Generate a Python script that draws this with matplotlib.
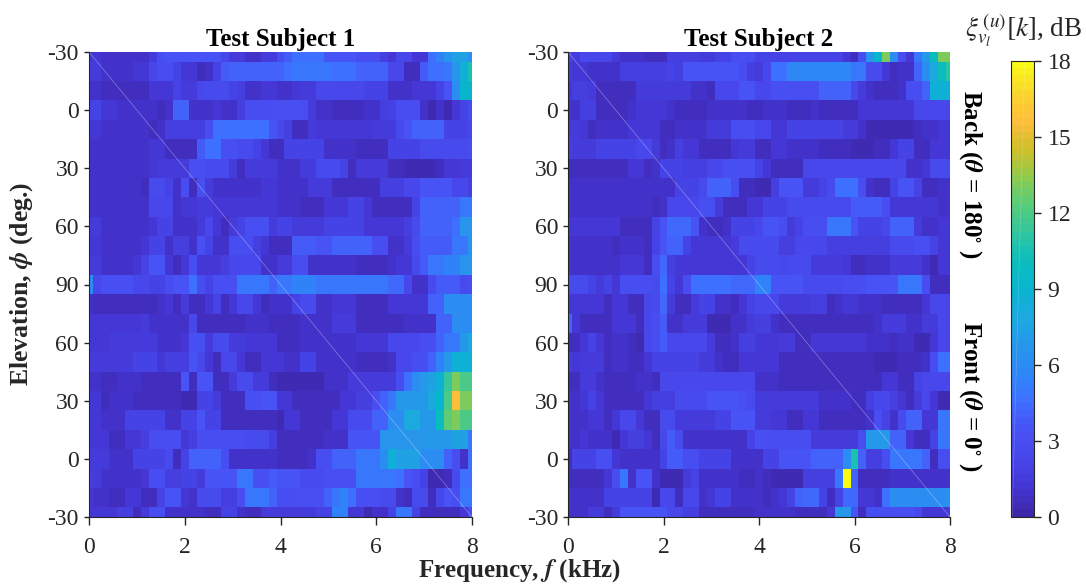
import numpy as np
from matplotlib import pyplot as plt
from matplotlib.colors import LinearSegmentedColormap

plt.rcParams['font.family'] = ['Liberation Serif', 'DejaVu Serif']
plt.rcParams['mathtext.fontset'] = 'stix'

# Тики оси и подписи
elev_ticks = list(range(0, 25, 3))
elev_labels = ['-30', '0', '30', '60', '90', '60', '30', '0', '-30']
freq_ticks = [0, 2, 4, 6, 8]
cbar_ticks = [0, 3, 6, 9, 12, 15, 18]
titles = ['Test Subject 1', 'Test Subject 2']

# Цвета шкалы (parula)
parula_colors = [(0.2422, 0.1504, 0.6603), (0.2706, 0.2147, 0.8364), (0.2803, 0.2782, 0.9221),
                 (0.2810, 0.3228, 0.9579), (0.2440, 0.4358, 0.9988), (0.1786, 0.5289, 0.9682),
                 (0.1540, 0.5902, 0.9218), (0.1113, 0.6635, 0.8763), (0.0297, 0.7082, 0.8163),
                 (0.0433, 0.7411, 0.7394), (0.1938, 0.7758, 0.6251), (0.3406, 0.8008, 0.4789),
                 (0.5616, 0.7942, 0.3045), (0.8203, 0.7498, 0.1535), (0.9956, 0.7434, 0.2371),
                 (0.9786, 0.8386, 0.1766), (0.9769, 0.9839, 0.0805)]

# Данные: строки - угол места, столбцы - частота
subject_1 = [
    [1.2,1.2,1.1,1.1,1.0,1.0,1.0,1.0,1.6,3.2, 3.5,3.5,3.6,3.6,3.6,3.6,3.6,2.5,1.6,1.5, 1.0,1.0,1.5,1.5,3.0,3.8,4.5,4.5,4.5,4.5, 3.5,3.5,3.5,3.5,3.0,3.0,3.0,1.8,1.2,2.3, 2.3,1.2,1.2,4.5,5.5,6.5,7.5,7.5,6.0],
    [1.6,1.6,1.1,1.1,1.1,1.1,1.2,1.2,2.5,3.0, 3.0,2.0,1.3,1.3,0.6,0.9,2.0,3.9,4.0,4.0, 4.1,4.1,4.2,4.2,4.2,4.6,4.8,4.8,4.8,4.8, 4.8,4.5,4.5,4.5,4.0,4.0,4.0,4.0,2.4,2.4, 0.7,0.7,3.8,4.5,4.5,5.0,6.5,8.5,10.5],
    [1.0,1.0,0.8,0.8,0.8,0.8,0.8,0.8,1.2,1.2, 1.2,2.0,1.5,1.5,2.5,2.6,2.8,2.8,2.2,1.7, 1.0,1.0,1.4,1.4,1.0,1.0,1.4,1.6,1.5,2.3, 2.3,2.3,2.3,2.3,2.3,2.2,2.2,2.2,0.9,0.9, 0.9,1.4,1.4,1.4,2.0,3.6,6.0,9.0,9.0],
    [2.0,2.0,1.2,1.2,1.1,1.1,1.0,1.0,0.9,0.8, 1.0,4.0,4.0,0.9,0.9,0.9,1.2,0.9,0.9,1.7, 3.0,3.0,3.0,3.0,3.2,3.2,3.2,3.0,1.5,1.0, 1.0,0.8,0.8,0.8,0.8,0.9,1.0,1.7,2.0,3.0, 3.0,3.0,1.0,0.5,1.0,0.5,1.2,2.0,2.7],
    [1.2,1.2,1.0,1.0,1.0,0.9,0.9,0.9,0.8,0.9, 1.7,1.8,1.9,1.9,1.9,3.0,4.7,4.7,4.7,4.7, 4.7,4.7,4.7,3.5,2.5,1.8,0.7,0.7,1.6,1.2, 1.2,1.2,1.2,1.2,1.2,1.2,1.6,1.6,1.6,2.6, 3.5,4.1,4.1,4.1,4.1,2.2,2.0,2.2,2.4],
    [1.0,1.0,1.0,1.0,1.0,1.0,1.0,1.0,1.4,1.4, 0.7,0.7,0.7,0.7,3.8,4.5,4.5,3.2,3.2,2.8, 2.8,2.2,1.3,0.8,0.8,2.2,2.2,2.2,2.0,2.0, 1.0,1.0,1.0,1.0,0.7,0.7,0.7,0.7,2.2,2.2, 2.2,2.2,2.7,2.7,2.7,2.7,2.7,2.7,3.0],
    [1.0,1.0,1.0,1.0,1.0,1.0,1.0,1.0,1.2,1.5, 1.5,1.5,1.5,3.2,3.2,2.8,2.8,2.8,1.6,0.8, 1.5,1.6,1.6,1.6,1.1,1.1,1.1,1.5,1.5,2.8, 2.8,2.8,2.2,0.7,1.5,1.5,1.5,1.5,0.7,0.7, 0.5,0.5,0.5,0.5,0.8,1.3,1.3,1.5,1.5],
    [1.0,1.0,1.0,1.0,1.0,1.0,1.0,0.7,2.8,2.8, 2.2,0.9,3.0,0.7,3.2,1.5,1.0,1.0,1.0,1.0, 1.0,1.0,1.4,1.4,1.0,1.0,1.0,1.0,1.5,1.5, 1.5,0.8,0.8,0.8,0.8,0.8,0.8,1.8,1.8,1.8, 2.5,2.5,3.5,3.5,3.5,3.5,2.4,2.4,1.8],
    [1.1,1.1,1.1,1.1,1.1,1.1,1.1,1.1,2.5,2.5, 2.5,1.0,1.4,1.4,1.6,1.6,1.2,1.2,1.2,1.2, 1.2,1.2,1.2,1.2,1.0,1.0,1.0,0.7,0.7,0.7, 1.4,1.4,1.4,2.1,2.1,1.3,0.7,0.7,0.7,0.7, 0.7,2.0,4.0,4.0,4.0,4.0,4.0,4.8,4.8],
    [1.6,1.6,0.9,0.9,0.9,0.9,0.9,0.9,1.2,2.0, 2.0,1.1,1.1,1.1,1.6,2.5,1.2,0.7,1.6,2.2, 3.3,3.3,3.3,1.5,2.0,2.0,1.5,1.5,1.5,1.5, 2.0,2.0,2.0,2.0,2.0,1.4,1.4,1.4,1.3,1.3, 1.7,2.8,4.0,4.0,4.0,4.0,4.5,6.5,6.5],
    [1.2,1.2,0.9,0.9,0.9,0.9,0.9,1.2,2.2,2.2, 0.9,1.8,1.8,0.9,3.2,2.0,1.0,1.0,3.0,3.0, 3.0,1.8,1.2,0.8,0.8,0.8,3.8,3.8,3.8,3.5, 3.5,4.0,4.0,4.0,4.0,4.0,3.0,3.0,1.0,1.0, 1.5,3.0,3.7,3.7,3.7,3.7,5.0,5.0,6.5],
    [1.5,1.5,1.0,1.0,1.0,1.0,1.2,2.2,3.4,3.4, 1.3,0.7,1.2,3.0,1.3,1.3,1.3,1.8,2.5,2.5, 2.5,2.5,0.9,0.9,1.5,1.5,3.0,3.0,1.1,1.1, 1.1,1.0,1.0,1.0,0.8,0.8,0.8,0.8,1.0,1.3, 1.3,2.8,3.7,4.8,4.8,5.5,5.5,6.5,6.5],
    [6.0,2.5,3.2,3.2,3.2,3.2,2.5,2.5,2.0,2.0, 3.0,3.4,3.4,4.7,3.0,2.0,3.3,3.3,3.3,4.8, 4.8,4.8,4.8,4.0,4.8,4.8,5.5,5.5,5.5,4.8, 4.8,4.8,4.8,4.8,4.8,4.8,4.8,4.8,4.3,4.3, 2.5,0.9,0.9,2.6,3.8,3.8,3.8,2.8,3.0],
    [1.0,0.7,0.7,0.7,0.7,0.7,0.7,0.7,0.7,1.1, 1.2,0.6,1.6,0.8,0.8,1.3,2.0,0.8,1.4,2.4, 2.4,1.3,0.6,1.0,1.0,1.0,2.0,2.8,2.8,1.1, 1.1,1.3,1.3,1.4,0.7,0.7,0.7,0.7,1.4,1.4, 1.4,1.4,1.4,4.0,4.0,6.0,6.0,6.0,6.0],
    [1.4,1.4,1.4,1.3,1.3,1.3,1.3,1.6,1.0,1.0, 1.0,0.9,0.9,2.4,0.8,0.8,0.7,0.7,0.7,0.7, 1.1,1.1,1.1,0.8,0.7,0.7,0.7,0.9,0.9,0.9, 0.9,1.5,1.5,1.5,0.8,0.8,0.8,0.8,0.8,0.8, 1.0,1.0,1.0,1.0,4.0,4.0,6.0,6.0,6.0],
    [1.4,1.4,1.4,1.5,1.5,1.5,1.6,1.6,1.6,0.9, 0.9,0.9,1.3,3.2,3.2,1.5,2.6,2.6,1.6,1.5, 1.2,1.3,1.3,1.3,0.7,0.7,0.7,0.9,0.9,0.9, 0.9,0.9,0.9,0.9,1.2,1.2,1.2,1.2,2.4,2.4, 2.4,2.4,3.0,3.0,4.0,5.0,5.0,7.0,8.0],
    [1.6,1.5,1.5,1.5,1.5,1.5,2.0,2.0,2.0,1.2, 1.7,1.7,1.7,3.6,2.4,1.4,0.8,2.4,2.4,1.4, 0.7,0.7,1.3,1.3,1.2,1.0,1.0,2.2,2.2,0.9, 0.9,0.9,0.9,0.9,0.6,0.6,0.6,0.6,1.0,2.5, 2.5,3.0,3.0,4.2,5.5,7.0,8.5,8.5,8.5],
    [1.1,1.1,0.7,0.7,1.0,1.0,1.0,0.8,0.8,0.8, 0.8,0.8,3.4,0.8,3.4,3.4,0.7,0.7,1.5,2.7, 2.7,1.5,1.5,0.7,0.5,0.5,0.5,0.5,0.5,0.5, 1.1,1.1,1.1,1.6,1.6,1.6,1.6,1.6,1.6,3.0, 4.7,6.0,6.8,7.5,8.5,11.5,13.0,12.0,12.0],
    [1.2,1.2,0.8,1.0,1.0,1.0,0.8,0.8,0.8,0.8, 0.8,0.8,0.5,0.5,2.0,2.0,1.6,0.8,0.8,0.8, 3.2,3.3,3.5,3.5,1.4,1.2,0.6,0.6,0.6,0.6, 0.6,0.6,1.2,1.2,1.7,1.7,3.0,4.0,5.0,6.8, 6.8,6.8,6.8,8.0,9.0,12.0,15.5,13.0,13.0],
    [1.3,1.3,0.9,0.9,1.1,2.2,2.2,2.2,2.2,2.2, 1.0,1.0,2.0,2.0,3.6,2.2,2.2,0.7,0.7,0.7, 0.7,0.7,0.7,0.7,0.5,1.4,1.4,0.8,0.8,0.8, 0.8,1.4,1.4,2.6,2.6,2.6,4.0,4.0,6.0,6.0, 8.0,8.0,7.0,7.0,10.0,12.5,13.0,12.0,12.0],
    [1.2,1.2,1.2,0.8,0.8,1.3,1.3,1.8,3.0,3.0, 3.0,3.0,1.3,1.8,3.0,3.0,3.0,3.0,3.0,3.0, 2.8,2.8,2.8,1.9,0.8,0.8,0.8,0.8,0.8,0.8, 1.0,1.0,1.0,3.6,3.6,3.6,3.6,6.5,6.5,6.5, 6.5,6.5,7.0,7.0,7.0,7.0,7.5,7.5,5.0],
    [1.5,1.5,1.5,0.9,0.9,1.1,2.2,2.2,2.2,2.2, 2.7,0.8,2.0,4.0,4.0,4.0,4.0,3.0,1.0,1.0, 1.0,0.9,0.9,0.9,0.7,0.7,0.7,0.7,1.0,3.0, 3.0,4.0,4.0,4.0,4.8,4.8,4.8,6.0,8.5,7.5, 7.5,7.5,6.0,6.0,6.0,4.0,3.0,1.0,4.5],
    [1.8,1.5,1.1,1.0,1.0,1.0,1.0,1.2,3.0,3.0, 1.9,1.9,2.2,2.2,1.6,3.6,3.6,3.6,3.6,4.9, 4.9,3.3,3.3,3.8,3.6,3.6,3.6,2.6,2.6,2.6, 3.2,3.2,3.2,3.2,4.8,4.8,4.8,4.8,4.8,4.5, 3.5,3.0,2.0,0.4,0.4,0.7,2.8,4.5,4.5],
    [1.4,1.1,1.1,0.7,0.7,1.2,1.2,0.8,0.8,2.0, 3.6,3.6,1.2,0.9,2.8,2.8,2.8,1.7,1.7,3.0, 5.0,5.0,5.0,4.0,3.0,3.0,3.0,3.1,3.1,3.1, 4.0,5.0,5.5,4.5,3.2,3.2,3.2,2.6,2.6,1.0, 0.8,2.6,2.6,0.6,2.5,3.5,2.9,4.8,4.8],
    [1.2,1.2,1.2,1.2,1.7,1.7,0.8,1.6,3.0,3.0, 0.9,1.0,1.0,1.0,1.0,0.7,0.7,2.0,2.0,1.0, 0.7,0.7,1.6,1.6,1.6,1.6,1.6,1.6,1.6,2.0, 2.0,5.5,5.5,1.2,1.2,0.5,1.0,1.0,2.0,4.8, 4.8,2.0,0.8,0.8,0.8,0.8,0.8,1.4,3.0],
]

subject_2 = [
    [2.0,1.5,2.4,2.4,2.4,2.4,1.6,1.0,1.0,1.0, 0.6,0.6,0.6,1.8,1.8,1.8,1.8,1.5,1.5,2.0, 2.0,3.0,3.0,3.0,2.2,2.0,2.0,2.0,2.0,2.0, 2.0,2.0,2.0,2.0,2.0,1.4,0.7,3.0,6.5,9.0, 13.0,6.0,3.0,1.3,5.0,7.0,10.0,13.0,13.0],
    [1.5,1.2,1.2,1.0,1.0,1.0,0.9,1.7,1.7,1.7, 1.7,1.7,1.7,2.0,1.9,3.5,3.5,3.5,3.5,3.5, 3.5,3.5,3.0,1.8,1.5,2.4,4.5,4.5,5.8,5.8, 5.8,5.8,5.8,5.8,5.8,5.8,5.0,5.0,2.6,2.6, 1.4,0.6,0.9,0.9,4.0,6.0,8.0,10.0,11.0],
    [1.3,1.8,1.8,1.5,0.8,0.8,0.8,0.8,0.8,1.6, 1.6,1.6,1.6,1.6,1.6,1.6,0.9,0.9,0.6,2.5, 2.5,2.5,3.5,3.5,2.5,2.5,3.1,3.1,3.1,3.1, 3.1,3.1,4.0,4.0,4.0,4.0,2.5,1.6,0.9,0.7, 0.7,0.7,1.1,3.0,3.0,4.0,8.5,8.5,8.5],
    [1.0,1.0,1.7,1.7,0.8,0.8,0.8,0.8,0.9,1.4, 1.4,1.4,1.4,1.0,0.7,0.7,0.7,0.7,1.0,1.0, 1.0,1.0,1.0,0.7,0.7,1.0,1.0,1.0,0.7,0.7, 0.7,1.0,0.7,0.7,0.7,0.7,0.7,1.2,1.2,1.2, 1.2,1.2,1.2,1.2,2.5,2.5,2.5,2.5,2.5],
    [1.6,1.6,1.3,0.7,0.9,0.9,0.9,0.9,1.3,1.3, 1.3,1.3,0.7,0.7,0.9,0.9,0.9,0.9,1.5,1.5, 1.5,3.0,3.0,3.0,2.5,2.5,1.3,1.2,2.2,2.2, 2.2,2.2,2.2,2.2,2.2,1.5,1.5,1.0,0.5,0.5, 0.5,0.5,0.5,0.5,0.8,1.1,1.1,1.4,1.4],
    [1.8,1.6,1.6,1.6,2.0,2.0,2.0,2.0,2.0,2.3, 2.3,1.6,0.7,0.9,1.7,1.2,1.2,0.7,0.7,0.7, 0.7,1.2,1.5,1.5,0.8,0.8,1.2,1.2,0.9,0.9, 0.9,0.9,0.7,0.7,0.7,0.7,0.5,0.5,0.5,0.6, 0.6,1.4,2.0,2.0,0.8,0.8,1.4,1.4,1.4],
    [0.8,0.8,0.8,0.8,0.8,0.8,0.8,0.8,1.3,1.3, 0.8,1.0,2.0,2.0,2.0,1.8,1.8,1.8,2.5,2.5, 3.2,3.2,3.2,3.2,2.2,1.2,0.6,0.6,0.6,0.8, 2.3,2.3,2.3,2.3,2.3,2.3,2.3,2.3,2.5,2.5, 2.5,2.5,2.5,0.9,0.9,1.2,2.7,2.7,2.7],
    [1.0,1.0,1.0,1.0,1.1,1.1,1.1,1.1,0.9,0.9, 0.9,0.9,1.1,1.1,2.2,2.2,2.2,2.6,4.2,4.2, 4.2,3.0,0.8,0.6,0.4,0.4,1.8,3.5,3.5,3.5, 1.6,1.6,2.0,2.8,4.5,4.5,4.5,3.0,1.0,0.6, 0.6,2.0,3.5,3.5,2.0,0.8,0.8,1.0,1.0],
    [0.9,0.9,0.9,1.1,1.1,1.1,1.1,1.1,1.1,1.1, 1.1,0.7,1.0,2.5,2.5,2.5,2.5,3.2,3.0,1.5, 0.6,0.6,0.6,1.2,1.2,2.2,2.2,2.2,2.6,2.6, 2.6,2.6,2.6,2.6,2.6,2.6,3.8,3.8,3.8,3.8, 3.0,1.4,1.4,1.4,1.4,1.4,1.4,0.9,0.9],
    [1.4,1.4,1.4,1.4,1.4,1.4,1.4,0.8,0.8,0.8, 0.8,2.2,3.4,4.4,4.4,4.4,3.5,1.0,0.6,0.6, 1.0,2.0,2.0,2.0,2.4,3.5,3.5,3.0,1.5,2.0, 3.0,3.0,3.0,5.0,5.0,5.0,3.5,2.0,2.0,2.0, 2.4,4.0,4.0,4.0,1.6,1.0,1.0,1.2,1.2],
    [1.1,1.1,1.1,1.1,1.1,1.1,0.8,0.9,0.9,1.0, 0.8,2.0,3.6,4.0,4.0,2.0,1.3,1.3,1.3,1.3, 1.3,1.5,2.6,2.6,2.8,2.8,2.8,1.9,1.9,2.5, 2.5,2.5,2.5,1.9,1.9,1.9,1.9,1.9,1.9,1.9, 1.9,2.8,2.8,2.8,3.2,3.2,2.0,1.4,1.4],
    [1.0,1.0,1.0,1.0,1.0,1.0,1.0,1.3,1.3,1.3, 0.8,3.0,4.3,1.8,1.4,1.4,1.4,1.4,1.4,1.4, 1.4,1.2,1.2,2.0,2.8,2.8,2.8,2.5,2.8,2.8, 2.8,1.6,1.6,1.6,1.6,1.2,0.6,0.6,1.0,1.0, 1.0,1.5,1.5,1.5,1.5,1.1,0.5,1.3,1.3],
    [2.6,2.6,2.6,2.0,1.6,2.0,1.4,3.0,3.0,3.0, 3.0,2.8,4.5,2.0,1.4,3.0,4.6,4.6,4.6,4.6, 4.6,4.3,4.3,4.3,5.5,5.5,3.5,3.5,3.5,3.5, 2.8,2.8,2.8,2.8,2.8,3.0,3.0,3.0,3.5,3.5, 3.5,3.5,4.8,4.8,4.8,3.0,0.8,0.8,0.8],
    [1.2,1.2,1.2,1.2,1.2,0.7,1.2,1.2,0.7,0.7, 2.5,2.8,4.3,1.6,0.8,0.8,1.5,2.0,2.0,1.0, 1.0,0.8,1.3,2.0,2.4,2.4,2.4,1.5,1.5,1.5, 1.5,1.8,1.8,0.7,0.9,1.3,1.3,0.9,0.9,0.9, 0.7,0.7,0.7,0.7,0.7,1.4,2.5,2.5,2.5],
    [4.0,1.2,0.8,0.8,0.8,0.8,1.4,1.4,1.4,0.7, 2.3,3.0,3.9,1.0,1.0,1.6,1.6,1.6,0.4,0.4, 0.4,0.9,0.9,1.6,1.7,1.7,1.0,0.8,0.8,0.8, 0.8,0.7,0.7,0.7,0.7,0.7,0.7,0.8,0.8,1.0, 1.5,1.5,1.5,1.0,1.0,1.6,1.6,2.5,2.5],
    [0.7,0.7,1.4,2.0,1.4,0.6,0.9,0.9,0.8,0.5, 2.4,3.0,3.9,2.5,2.5,2.5,2.5,2.5,1.5,0.8, 0.8,1.0,1.7,1.7,1.4,1.4,1.4,1.5,1.5,0.8, 0.8,1.2,1.2,1.2,1.2,1.2,1.2,1.2,0.9,0.9, 0.9,0.6,0.9,0.9,0.5,0.5,1.4,2.3,2.3],
    [1.6,1.2,1.5,1.5,1.5,0.8,1.0,1.0,0.7,0.7, 1.2,2.0,2.0,2.0,2.0,2.0,2.0,1.6,1.6,1.1, 0.6,0.6,1.4,1.4,1.3,1.3,1.3,0.8,0.8,0.8, 0.8,0.7,0.7,0.7,0.6,0.6,0.6,0.6,0.6,0.5, 0.5,0.5,0.6,0.6,0.6,1.0,3.0,4.6,4.6],
    [0.8,0.8,1.5,1.5,1.0,0.8,0.8,0.7,0.7,0.9, 0.9,0.8,2.3,2.3,2.3,2.3,2.3,2.3,2.3,2.5, 2.5,2.5,2.5,2.5,1.0,1.0,1.0,0.7,0.7,0.7, 0.7,0.7,0.7,0.7,0.7,0.7,0.7,0.7,0.7,0.7, 1.3,1.4,0.8,0.8,2.0,2.5,2.5,2.5,2.5],
    [1.1,1.1,1.3,2.2,1.3,0.8,0.8,0.8,0.8,0.8, 1.2,1.8,1.8,1.8,2.7,2.7,2.7,2.7,3.5,3.5, 3.5,3.5,3.2,2.8,1.5,1.5,1.5,1.5,1.5,1.5, 1.5,1.5,0.9,0.9,0.9,0.9,0.8,0.8,1.8,2.3, 2.3,1.8,1.2,0.6,1.6,2.5,1.2,0.5,0.5],
    [1.0,1.0,1.0,1.2,1.2,0.8,1.2,2.4,2.4,1.2, 0.7,0.8,2.8,2.8,1.6,1.6,1.6,1.6,1.6,2.0, 2.0,3.4,3.4,3.4,1.5,1.5,1.2,1.2,0.8,0.8, 1.4,1.4,0.8,0.8,0.8,0.8,0.8,0.8,1.0,3.0, 2.0,1.0,2.6,4.2,4.2,1.3,1.2,4.8,4.8],
    [1.1,1.1,1.2,1.1,1.1,1.1,0.5,1.4,1.8,1.8, 1.2,0.6,2.4,3.7,2.8,1.0,1.0,1.0,1.0,1.1, 1.1,1.1,1.1,2.0,3.2,3.0,3.0,3.0,3.0,3.0, 3.0,1.5,1.5,1.5,1.5,1.5,1.5,3.0,7.0,7.0, 7.0,4.0,4.0,1.2,0.8,0.8,2.0,5.0,5.0],
    [0.8,2.0,2.0,2.0,3.2,3.2,1.3,1.0,1.0,1.0, 1.0,1.0,2.2,3.7,3.7,3.0,3.0,2.0,2.0,2.0, 2.0,0.9,0.9,0.9,1.0,2.0,2.0,3.6,3.6,3.6, 3.6,4.0,4.0,4.0,4.0,6.0,10.5,4.0,1.8,1.8, 3.0,5.0,5.0,5.0,5.0,4.0,0.6,3.0,3.0],
    [0.8,0.8,0.8,0.8,0.8,1.3,3.0,5.0,0.9,3.4, 3.4,1.0,0.5,0.5,0.5,1.5,2.0,1.0,1.0,1.0, 1.0,1.0,0.8,0.8,1.0,0.6,0.5,0.5,0.5,0.5, 1.8,1.8,1.8,1.8,5.0,18.0,4.0,0.7,0.7,0.7, 0.7,1.0,1.0,1.0,1.0,1.0,1.0,1.0,1.0],
    [0.9,0.9,0.9,0.9,0.9,2.0,2.0,2.0,2.0,2.0, 2.0,0.5,2.5,2.5,0.7,2.4,2.4,1.0,1.4,2.2, 2.2,1.0,1.0,1.0,1.0,0.8,1.0,1.2,2.0,4.0, 4.3,4.3,2.0,0.7,2.0,4.4,4.4,1.3,1.3,1.0, 4.5,6.0,6.0,6.0,6.0,6.0,6.0,6.0,6.3],
    [1.0,1.0,1.0,1.5,1.5,0.6,1.6,3.5,3.5,3.5, 3.5,3.5,3.5,2.4,2.4,1.8,1.8,0.8,0.8,0.8, 0.8,0.8,0.8,0.8,0.9,0.9,0.9,0.9,0.9,0.6, 0.6,0.6,0.6,1.3,7.0,7.0,3.4,0.8,3.2,3.2, 3.2,3.2,3.2,3.2,2.5,1.3,1.3,1.3,1.5],
]


def px_rect(x0, y0, x1, y1, w=1086, h=587):
    """Прямоугольник осей из пикселей картинки"""
    return [x0 / w, 1 - y1 / h, (x1 - x0) / w, (y1 - y0) / h]


parula = LinearSegmentedColormap.from_list('parula', parula_colors, N=64)
text_color = '#262626'

fig = plt.figure(figsize=(10.86, 5.87), dpi=100)

# Две тепловые карты
rects = [px_rect(89, 52, 472, 517), px_rect(568, 52, 950, 517)]
step = 1 / 6
for rect, values, title in zip(rects, [subject_1, subject_2], titles):
    ax = fig.add_axes(rect)
    im = ax.imshow(np.array(values), cmap=parula, vmin=0, vmax=18, aspect='auto', interpolation='bilinear',
                   extent=[-step / 2, 8 + step / 2, 24.5, -0.5], interpolation_stage='rgba')
    im.set_interpolation('nearest')
    ax.set_xlim(0, 8)
    ax.set_ylim(24, 0)
    ax.set_xticks(freq_ticks)
    ax.set_yticks(elev_ticks)
    ax.set_yticklabels(elev_labels)
    ax.tick_params(axis='x', labelsize=17, length=5.5, width=1, color=text_color, labelcolor=text_color, pad=9)
    ax.tick_params(axis='y', labelsize=17, length=3.6, width=1, color=text_color, labelcolor=text_color, pad=3.6)
    ax.spines['top'].set_visible(False)
    ax.spines['right'].set_visible(False)
    for side in ['left', 'bottom']:
        ax.spines[side].set_color(text_color)
    ax.plot([0, 8], [0, 24], c='white', linewidth=0.4, alpha=0.45)
    ax.set_title(title, fontsize=18, fontweight='bold', pad=4)

# Шкала цвета
cax = fig.add_axes(px_rect(1011, 61, 1034, 517))
cbar = fig.colorbar(im, cax=cax, ticks=cbar_ticks)
cbar.ax.tick_params(labelsize=17, length=4.8, width=1, color=text_color, labelcolor=text_color, pad=5)
cbar.outline.set_edgecolor(text_color)
cax.plot([0.6, 0.05], [18, 0], c='white', linewidth=0.4, alpha=0.25)
cax.set_xlim(0, 1)
cax.set_ylim(0, 18)


def px_text(x, y, s, **kwargs):
    fig.text(x / 1086, 1 - y / 587, s, ha='center', va='center', **kwargs)


px_text(1024, 30, r'$\xi_{v_l}^{\,(u)}[k]$, dB', fontsize=19.5, color=text_color)
px_text(519, 571, r'Frequency, $\boldsymbol{f}$ (kHz)', fontsize=18, fontweight='bold', color=text_color)
px_text(22, 284, r'Elevation, $\boldsymbol{\phi}$ (deg.)', fontsize=18.5, fontweight='bold', rotation=90,
        color=text_color)
px_text(970, 174, r'Back ($\boldsymbol{\theta}$ = 180$^{\circ}$ )', fontsize=18, fontweight='bold', rotation=-90)
px_text(970, 396, r'Front ($\boldsymbol{\theta}$ = 0$^{\circ}$ )', fontsize=18, fontweight='bold', rotation=-90)

plt.savefig('out.png', dpi=100)
